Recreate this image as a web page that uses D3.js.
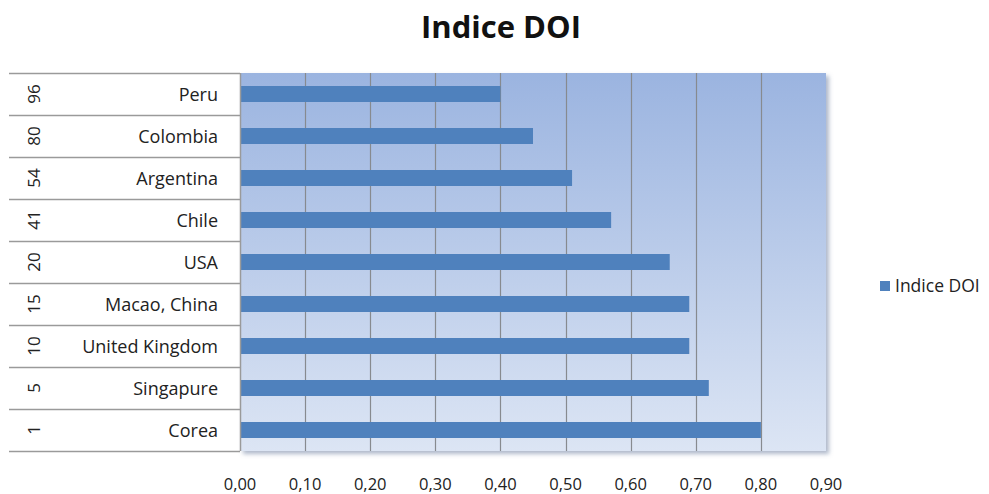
<!DOCTYPE html>
<html>
<head>
<meta charset="utf-8">
<script src="https://cdn.jsdelivr.net/npm/d3@7/dist/d3.min.js"></script>
<style>
body{margin:0;background:#fff;}
svg{display:block;}
</style>
</head>
<body>
<div id="chart"></div>
<script>
var countries = ["Peru","Colombia","Argentina","Chile","USA","Macao, China","United Kingdom","Singapure","Corea"];
var ranks = ["96","80","54","41","20","15","10","5","1"];
var doi = [0.40,0.45,0.51,0.57,0.66,0.69,0.69,0.72,0.80];
var ticks = [0,0.1,0.2,0.3,0.4,0.5,0.6,0.7,0.8,0.9];
var seriesName = "Indice DOI";

var width = 989, height = 494;
var plot = {left:240, right:826, top:73, bottom:451};
var font = "'Open Sans', 'Noto Sans', sans-serif";

var svg = d3.select('#chart').append('svg')
    .attr('width',width).attr('height',height);

var x = d3.scaleLinear().domain([0,0.9]).range([plot.left,plot.right]);
var y = d3.scaleBand().domain(countries).range([plot.top,plot.bottom]);

var defs = svg.append('defs');
var grad = defs.append('linearGradient').attr('id','bg')
    .attr('x1',0).attr('y1',0).attr('x2',0).attr('y2',1);
grad.append('stop').attr('offset','0%').attr('stop-color','#9bb4e0');
grad.append('stop').attr('offset','100%').attr('stop-color','#dce5f4');

var shadow = defs.append('filter').attr('id','shadow')
    .attr('x','-5%').attr('y','-5%').attr('width','110%').attr('height','110%');
shadow.append('feDropShadow').attr('dx',3).attr('dy',3).attr('stdDeviation',2)
    .attr('flood-color','#7a8aa8').attr('flood-opacity',0.6);

// title
svg.append('text')
    .text(seriesName)
    .attr('x',501).attr('y',38)
    .attr('text-anchor','middle')
    .attr('font-family',font)
    .attr('font-weight','bold')
    .attr('font-size','31px')
    .attr('fill','#111');

// plot background
svg.append('rect')
    .attr('x',plot.left).attr('y',plot.top)
    .attr('width',plot.right-plot.left).attr('height',plot.bottom-plot.top)
    .attr('fill','url(#bg)')
    .attr('filter','url(#shadow)');

// grid lines
svg.append('g').attr('class','grid').selectAll('line')
    .data(ticks.slice(1,-1))
    .enter().append('line')
    .attr('x1',function(d){return Math.round(x(d))+0.5;})
    .attr('x2',function(d){return Math.round(x(d))+0.5;})
    .attr('y1',plot.top).attr('y2',plot.bottom)
    .attr('stroke','#878a8f')
    .attr('stroke-width',1.2);

// bars
var barH = 16;
svg.append('g').attr('class','bars').selectAll('rect')
    .data(doi)
    .enter().append('rect')
    .attr('x',x(0))
    .attr('y',function(d,i){return y(countries[i])+(y.bandwidth()-barH)/2;})
    .attr('width',function(d){return x(d)-x(0);})
    .attr('height',barH)
    .attr('fill','#4f81bd');

// left table lines
var rowEdges = countries.map(function(c){return y(c);}).concat([plot.bottom]);
svg.append('g').attr('class','table').selectAll('line')
    .data(rowEdges)
    .enter().append('line')
    .attr('x1',9).attr('x2',plot.left)
    .attr('y1',function(d){return Math.round(d)+0.5;})
    .attr('y2',function(d){return Math.round(d)+0.5;})
    .attr('stroke','#9a9a9a')
    .attr('stroke-width',1.5);

svg.append('line')
    .attr('x1',plot.left+0.5).attr('x2',plot.left+0.5)
    .attr('y1',plot.top).attr('y2',plot.bottom)
    .attr('stroke','#9a9a9a').attr('stroke-width',1.5);

// category labels
svg.append('g').attr('class','cat').selectAll('text')
    .data(countries)
    .enter().append('text')
    .text(function(d){return d;})
    .attr('x',218)
    .attr('y',function(d){return y(d)+y.bandwidth()/2+6.5;})
    .attr('text-anchor','end')
    .attr('font-family',font)
    .attr('font-size','18px')
    .attr('fill','#222');

// rank labels (rotated)
svg.append('g').attr('class','rank').selectAll('text')
    .data(ranks)
    .enter().append('text')
    .text(function(d){return d;})
    .attr('transform',function(d,i){
        var cy = y(countries[i])+y.bandwidth()/2;
        return 'translate(40,'+cy+') rotate(-90)';
    })
    .attr('text-anchor','middle')
    .attr('font-family',font)
    .attr('font-size','17px')
    .attr('fill','#222');

// x axis labels
svg.append('g').attr('class','xlab').selectAll('text')
    .data(ticks)
    .enter().append('text')
    .text(function(d){return d.toFixed(2).replace('.',',');})
    .attr('x',function(d){return x(d);})
    .attr('y',490)
    .attr('text-anchor','middle')
    .attr('font-family',font)
    .attr('font-size','16.5px')
    .attr('fill','#222');

// legend
svg.append('rect')
    .attr('x',880).attr('y',281)
    .attr('width',10).attr('height',10)
    .attr('fill','#4f81bd');
svg.append('text')
    .text(seriesName)
    .attr('x',895).attr('y',292)
    .attr('font-family',font)
    .attr('font-size','17.5px')
    .attr('fill','#222');
</script>
</body>
</html>
